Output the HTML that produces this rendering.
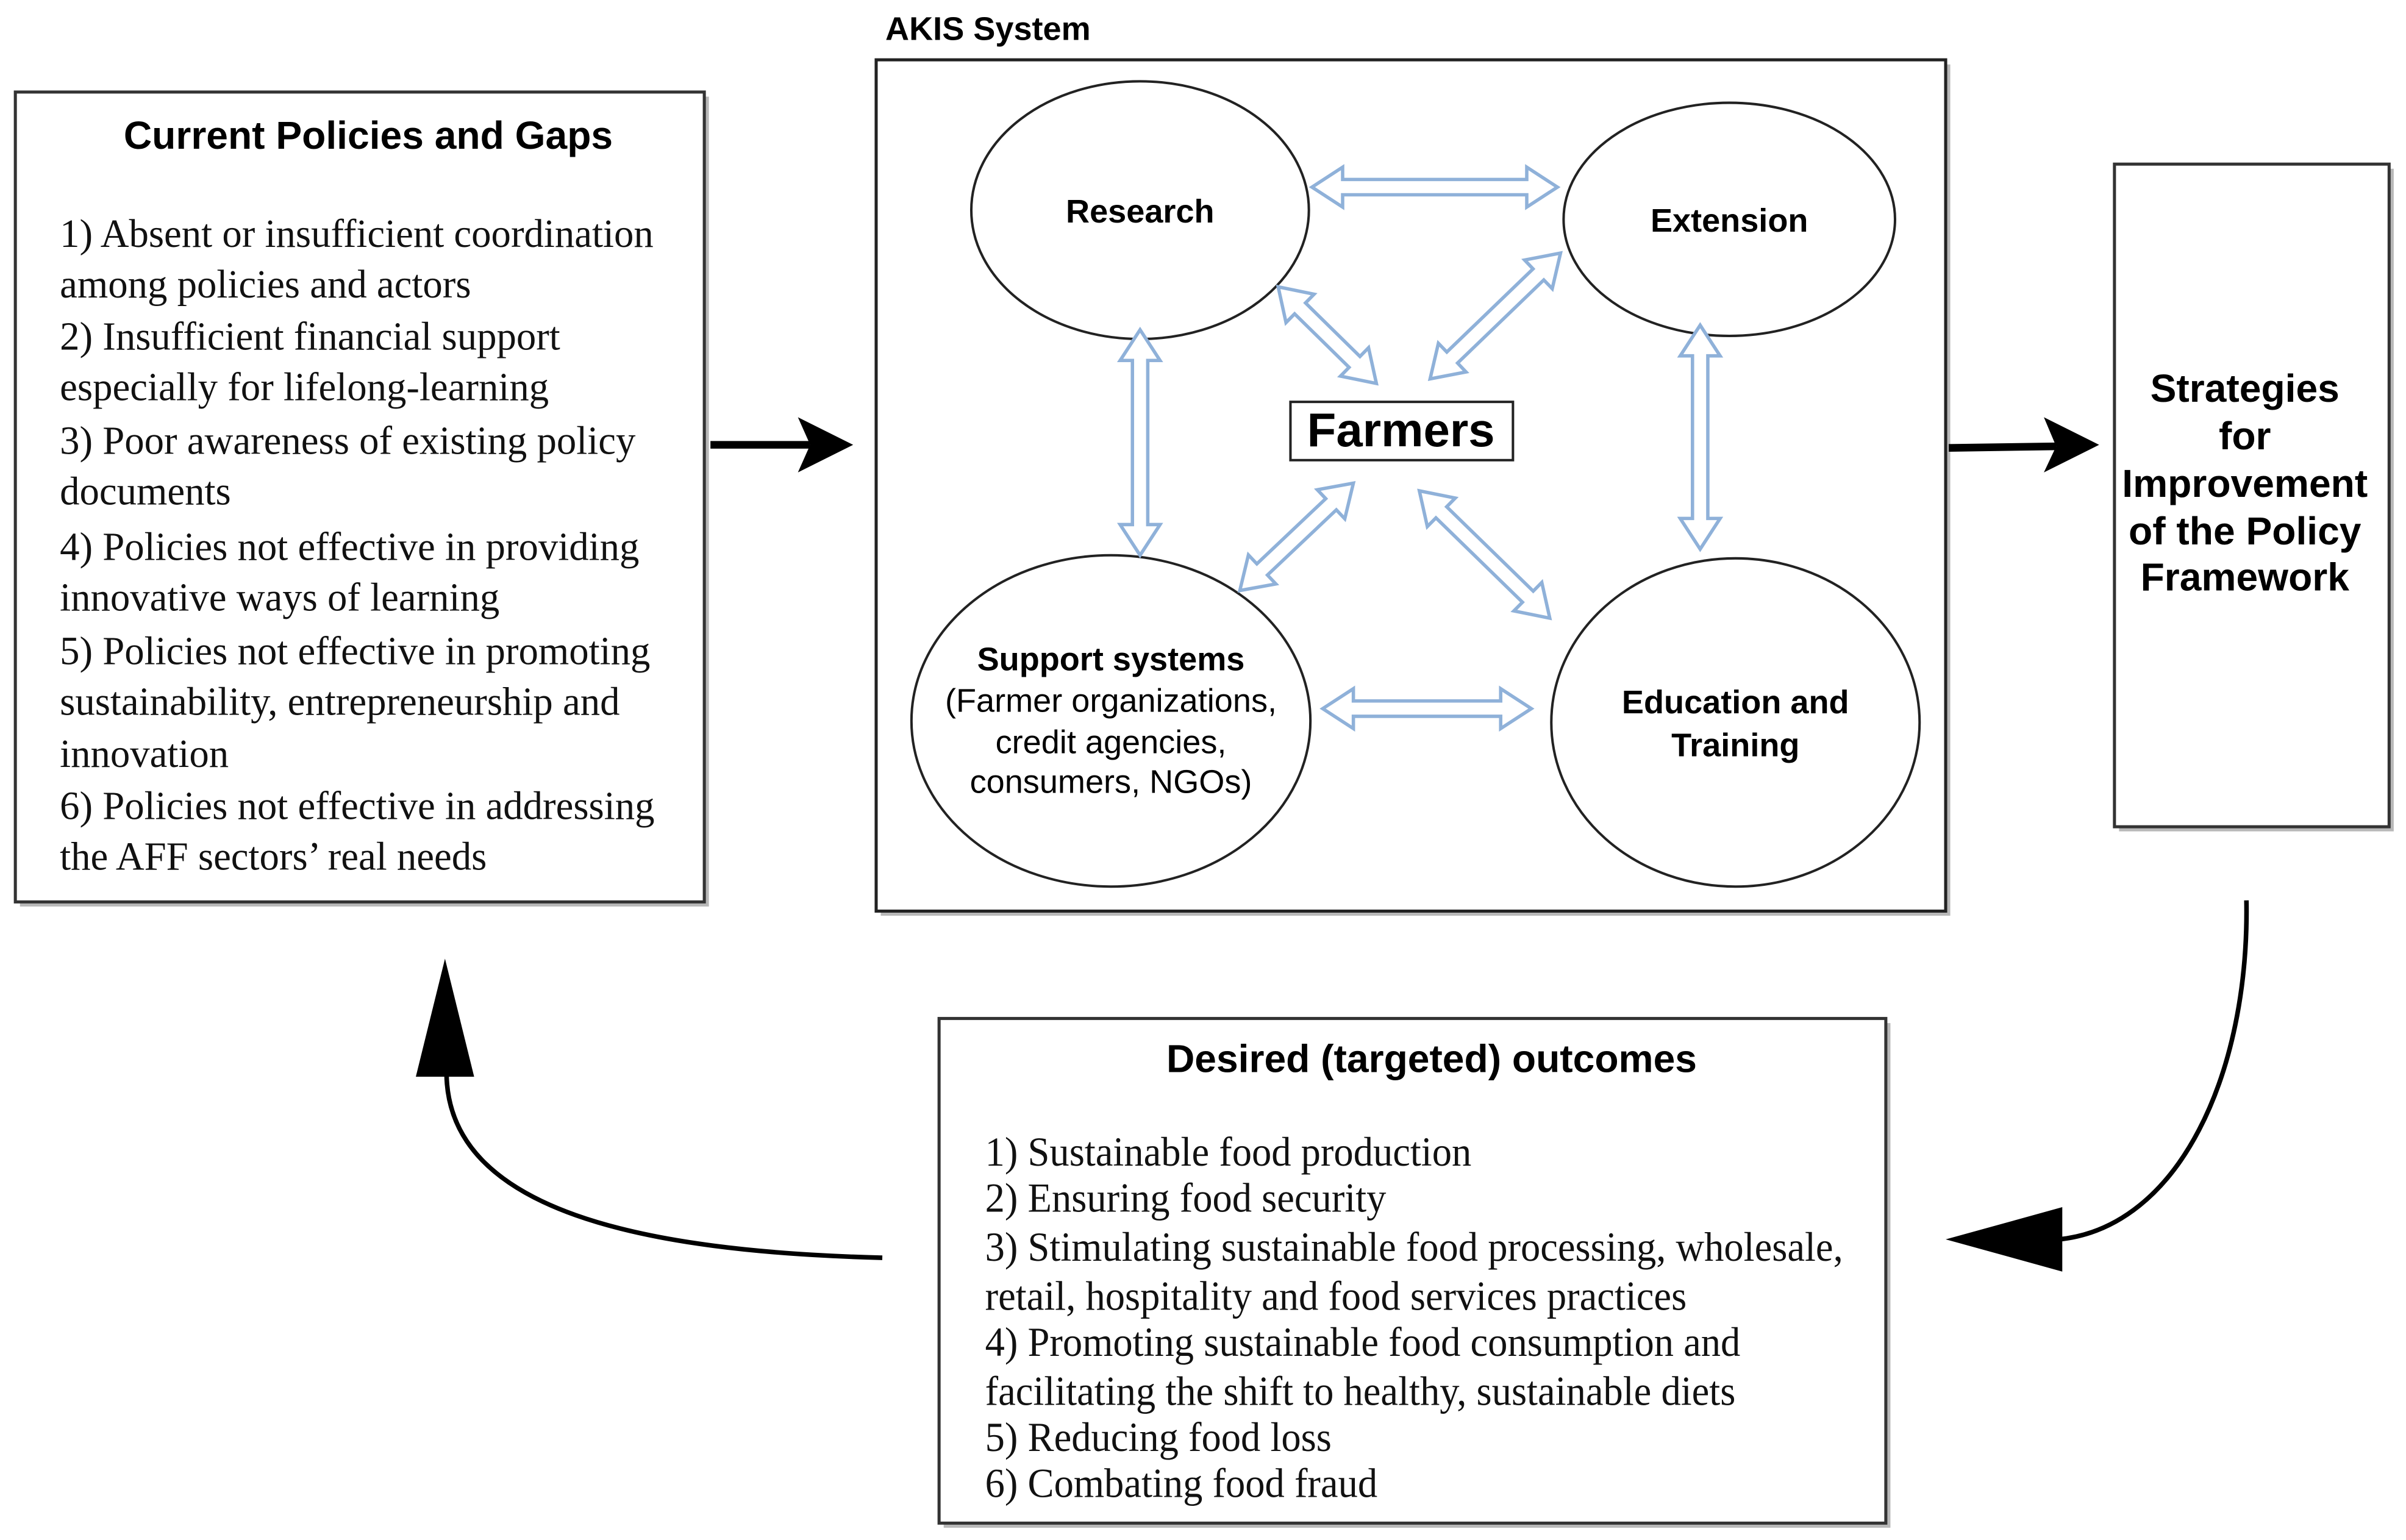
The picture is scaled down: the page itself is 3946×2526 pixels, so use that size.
<!DOCTYPE html>
<html><head><meta charset="utf-8"><style>
html,body{margin:0;padding:0;background:#fff;}
svg{display:block;}
.t{font-family:"Liberation Sans",Arial,sans-serif;font-weight:bold;fill:#000;}
.s{font-family:"Liberation Serif","Times New Roman",serif;fill:#111;}
.c{font-family:"Liberation Sans",Arial,sans-serif;fill:#000;}
</style></head><body>
<svg width="3946" height="2526" viewBox="0 0 1568 1004" preserveAspectRatio="none" xmlns="http://www.w3.org/2000/svg">
<rect x="0" y="0" width="1568" height="1004" fill="#fff"/>
<g fill="#b8b8b8">
<rect x="13" y="63" width="449" height="528"/>
<rect x="574" y="42" width="697" height="555"/>
<rect x="1381" y="110" width="179" height="432"/>
<rect x="615" y="667" width="617" height="329"/>
</g>
<rect x="10" y="60" width="449" height="528" fill="#fff" stroke="#333" stroke-width="2"/>
<text class="t" x="240" y="97" font-size="25.5" text-anchor="middle">Current Policies and Gaps</text>
<g class="s" font-size="26" transform="translate(39 0) scale(0.99 1)">
<text x="0" y="161">1) Absent or insufficient coordination</text>
<text x="0" y="194">among policies and actors</text>
<text x="0" y="228">2) Insufficient financial support</text>
<text x="0" y="261">especially for lifelong-learning</text>
<text x="0" y="296">3) Poor awareness of existing policy</text>
<text x="0" y="329">documents</text>
<text x="0" y="365">4) Policies not effective in providing</text>
<text x="0" y="398">innovative ways of learning</text>
<text x="0" y="433">5) Policies not effective in promoting</text>
<text x="0" y="466">sustainability, entrepreneurship and</text>
<text x="0" y="500">innovation</text>
<text x="0" y="534">6) Policies not effective in addressing</text>
<text x="0" y="567">the AFF sectors’ real needs</text>
</g>
<line x1="463" y1="290" x2="528" y2="290" stroke="#000" stroke-width="5"/>
<polygon points="556,290 520,272 528,290 520,308" fill="#000"/>
<text class="t" x="577" y="26" font-size="21.5">AKIS System</text>
<rect x="571" y="39" width="697" height="555" fill="#fff" stroke="#222" stroke-width="2"/>
<g fill="#fff" stroke="#222" stroke-width="1.6">
<ellipse cx="743" cy="137" rx="110" ry="84"/>
<ellipse cx="1127" cy="143" rx="108" ry="76"/>
<ellipse cx="724" cy="470" rx="130" ry="108"/>
<ellipse cx="1131" cy="471" rx="120" ry="107"/>
</g>
<text class="t" x="743" y="145" font-size="21.5" text-anchor="middle">Research</text>
<text class="t" x="1127" y="151" font-size="21.5" text-anchor="middle">Extension</text>
<text class="t" x="724" y="437" font-size="21.5" text-anchor="middle">Support systems</text>
<text class="c" x="724" y="464" font-size="21.5" text-anchor="middle">(Farmer organizations,</text>
<text class="c" x="724" y="491" font-size="21.5" text-anchor="middle">credit agencies,</text>
<text class="c" x="724" y="517" font-size="21.5" text-anchor="middle">consumers, NGOs)</text>
<text class="t" x="1131" y="465" font-size="21.5" text-anchor="middle">Education and</text>
<text class="t" x="1131" y="493" font-size="21.5" text-anchor="middle">Training</text>
<rect x="841" y="262" width="145" height="38" fill="#fff" stroke="#222" stroke-width="1.6"/>
<text class="t" x="913" y="291" font-size="31" text-anchor="middle">Farmers</text>
<g id="arrows" fill="#fff" stroke="#8fb1d9" stroke-width="2.2" stroke-linejoin="miter"></g>
<script>
(function(){
var g=document.getElementById('arrows');
function da(x1,y1,x2,y2){
 var dx=x2-x1,dy=y2-y1,L=Math.sqrt(dx*dx+dy*dy),ux=dx/L,uy=dy/L,nx=-uy,ny=ux;
 var sw=5,hw=13,hl=20;
 function p(a,b){return (x1+ux*a+nx*b).toFixed(1)+','+(y1+uy*a+ny*b).toFixed(1);}
 var pts=[p(0,0),p(hl,hw),p(hl,sw),p(L-hl,sw),p(L-hl,hw),p(L,0),p(L-hl,-hw),p(L-hl,-sw),p(hl,-sw),p(hl,-hw)];
 var e=document.createElementNS('http://www.w3.org/2000/svg','polygon');
 e.setAttribute('points',pts.join(' '));g.appendChild(e);
}
da(855,122,1015,122);
da(743,215,743,362);
da(1108,212,1108,358);
da(862,462,998,462);
da(833,187,897,250);
da(1017,165,932,247);
da(808,385,882,315);
da(925,320,1010,403);
})();
</script>
<line x1="1270" y1="292" x2="1340" y2="291" stroke="#000" stroke-width="5"/>
<polygon points="1368,290 1332,272 1340,291 1332,308" fill="#000"/>
<rect x="1378" y="107" width="179" height="432" fill="#fff" stroke="#333" stroke-width="2"/>
<g class="t" font-size="25.5" text-anchor="middle">
<text x="1463" y="262">Strategies</text>
<text x="1463" y="293">for</text>
<text x="1463" y="324">Improvement</text>
<text x="1463" y="355">of the Policy</text>
<text x="1463" y="385">Framework</text>
</g>
<path d="M1464,587 C1466,700 1420,800 1342,808" fill="none" stroke="#000" stroke-width="3"/>
<polygon points="1268,808 1344,787 1344,829" fill="#000"/>
<rect x="612" y="664" width="617" height="329" fill="#fff" stroke="#333" stroke-width="2"/>
<text class="t" x="933" y="699" font-size="25.5" text-anchor="middle">Desired (targeted) outcomes</text>
<g class="s" font-size="27" transform="translate(642 0) scale(0.95 1)">
<text x="0" y="760">1) Sustainable food production</text>
<text x="0" y="790">2) Ensuring food security</text>
<text x="0" y="822">3) Stimulating sustainable food processing, wholesale,</text>
<text x="0" y="854">retail, hospitality and food services practices</text>
<text x="0" y="884">4) Promoting sustainable food consumption and</text>
<text x="0" y="916">facilitating the shift to healthy, sustainable diets</text>
<text x="0" y="946">5) Reducing food loss</text>
<text x="0" y="976">6) Combating food fraud</text>
</g>
<path d="M575,820 C420,816 292,790 291,700" fill="none" stroke="#000" stroke-width="3"/>
<polygon points="290,625 271,702 309,702" fill="#000"/>
</svg>
</body></html>
